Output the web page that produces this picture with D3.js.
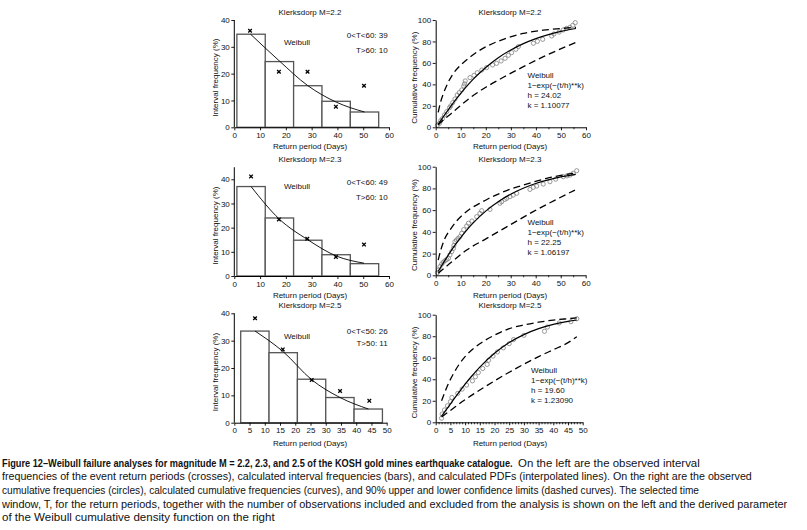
<!DOCTYPE html>
<html><head><meta charset="utf-8">
<script src="https://cdn.jsdelivr.net/npm/d3@7/dist/d3.min.js"></script>
<style>
body{margin:0;background:#fff}
svg text{font-family:"Liberation Sans",Arial,Helvetica,sans-serif;fill:#111}
</style>
</head><body>
<svg id="chart" width="807" height="530"></svg>
<script>
// ---------- DATA ----------
const titles = ["Klerksdorp M=2.2", "Klerksdorp M=2.3", "Klerksdorp M=2.5"];
const xTicks60 = [0, 10, 20, 30, 40, 50, 60];
const xTicks50 = [0, 5, 10, 15, 20, 25, 30, 35, 40, 45, 50];
const yTicksLeft = [0, 10, 20, 30, 40];
const yTicksRight = [0, 20, 40, 60, 80, 100];
const windowText = [["0<T<60: 39", "T>60: 10"], ["0<T<60: 49", "T>60: 10"], ["0<T<50: 26", "T>50: 11"]];
const paramText = [["Weibull", "1\u2212exp(\u2212(t/h)**k)", "h = 24.02", "k = 1.10077"],
                   ["Weibull", "1\u2212exp(\u2212(t/h)**k)", "h = 22.25", "k = 1.06197"],
                   ["Weibull", "1\u2212exp(\u2212(t/h)**k)", "h = 19.60", "k = 1.23090"]];

// left: interval frequencies
const edges22 = [1, 12, 23, 34, 45, 56];
const bars22 = [34.7, 24.5, 15.5, 9.7, 5.7];
const crossT22 = [6.1, 17.3, 28.4, 39.4, 50.3];
const crossF22 = [36.0, 20.7, 20.7, 7.7, 15.5];
const pdfT22 = [6.3, 17.4, 28.4, 39.5, 50.5];
const pdfF22 = [34.7, 24.8, 15.6, 9.4, 5.7];

const edges23 = [1, 12, 23, 34, 45, 56];
const bars23 = [37.0, 24.0, 14.8, 8.8, 5.1];
const crossT23 = [6.5, 17.3, 28.3, 39.4, 50.3];
const crossF23 = [41.2, 23.4, 15.4, 7.9, 13.0];
const pdfT23 = [6.5, 17.5, 28.5, 39.5, 50.3];
const pdfF23 = [37.0, 23.5, 15.0, 8.3, 5.3];

const edges25 = [2.1, 11.4, 20.7, 30.0, 39.3, 48.6];
const bars25 = [33.5, 25.6, 15.9, 9.2, 5.0];
const crossT25 = [6.8, 15.9, 25.4, 34.7, 44.3];
const crossF25 = [38.2, 26.8, 15.6, 11.6, 8.0];
const pdfT25 = [6.8, 16.0, 25.4, 34.7, 44.0];
const pdfF25 = [33.5, 26.0, 15.7, 9.2, 5.0];

// right: cumulative frequencies
const obsT22 = [0.7,1.5,2.0,2.7,3.5,4.4,5.5,6.0,6.8,7.7,8.6,9.4,10.4,11.2,11.5,11.8,13.7,15.3,16.6,18.4,20.3,22.7,24.3,26.1,27.7,29.0,30.3,32.0,33.0,39.0,40.6,42.7,46.3,47.2,49.3,50.9,52.3,53.6,54.7,55.7];
const obsF22 = [1.9,3.7,6.2,8.1,11.5,14.6,18.3,19.9,23.0,26.4,30.1,32.3,34.8,38.5,40.5,43.2,46.3,48.4,50.9,53.4,55.6,58.1,59.6,61.8,64.3,67.1,69.6,72.7,75.2,78.3,80.1,82.0,85.1,87.0,88.8,90.7,92.2,93.2,95.0,97.5];
const fitT22 = [1,2,4,6,8,10,12,15,20,25,30,35,40,45,50,56];
const fitF22 = [3.0,6.3,13.0,19.5,25.8,31.7,37.2,44.9,55.8,64.8,72.1,78.0,82.7,86.4,89.4,92.1];
const upT22 = [1,2,3,5,7,10,14,20,27,35,43,51,56];
const upF22 = [14,24,31,42,50,58,66,75,82,87.5,90.5,92.3,93.2];
const loT22 = [1,3,6,10,14,20,27,35,43,51,56];
const loF22 = [2.2,6.8,12.5,20.5,28,37.3,46.6,56.5,65.8,74.2,79.2];

const obsT23 = [0.7,1.1,1.7,2.4,3.0,3.7,4.4,5.1,5.7,6.4,7.1,7.3,7.7,8.3,9.0,9.7,10.4,11.2,12.4,13.1,14.5,16.4,17.7,18.4,21.7,25.7,26.4,27.7,28.4,29.7,31.0,32.4,37.7,39.0,40.4,43.0,45.7,48.0,51.0,52.5,53.7,55.0,56.4];
const obsF23 = [2.5,4.9,8.0,10.4,12.0,13.5,14.5,15.6,18.7,21.8,24.8,27.6,31.0,32.5,34.0,35.6,38.7,42.0,45.4,47.9,50.0,54.0,57.0,59.5,60.7,66.3,67.8,69.9,70.9,72.4,73.9,75.5,79.1,81.0,82.2,84.0,86.2,88.5,90.8,91.5,92.3,93.9,96.3];
const fitT23 = [1,2,4,6,8,10,12,15,20,25,30,35,40,45,50,56];
const fitF23 = [3.6,7.4,14.9,22.0,28.7,34.8,40.5,48.2,59.1,67.7,74.7,80.2,84.5,87.9,90.6,93.0];
const upT23 = [1,2,3.5,5.7,8,11,14,17.7,21,25.7,30,35,40,44.4,50,55];
const upF23 = [14,23,33,41.7,49,56,61.5,66.3,70.5,75.5,79.5,83,86.5,89.3,92,93.9];
const loT23 = [1,5.7,12.4,20.4,29.7,39,48.4,55.7];
const loF23 = [1.8,11,23.3,34,46.3,58.6,70,78.5];

const obsT25 = [2.0,2.2,3.0,4.0,5.0,5.5,7.5,9.0,10.5,12.5,13.5,14.5,16.0,17.5,18.0,19.5,21.0,23.0,25.0,26.5,30.0,37.0,38.0,42.0,46.0,48.0];
const obsF25 = [3.8,7.7,11.5,15.4,19.2,23.1,26.9,30.8,34.6,38.5,42.3,46.2,50.0,53.8,57.7,61.5,65.4,69.2,73.1,76.9,80.8,84.6,88.5,92.3,93.5,96.2];
const fitT25 = [2,3,4,6,8,10,12,15,20,25,30,35,40,45,48];
const fitF25 = [5.8,9.4,13.2,20.8,28.2,35.4,42.1,51.3,64.1,74.1,81.5,87.0,91.0,93.8,95.1];
const upT25 = [2,4,6,8,10,15,20,25,30,35,40,45,48];
const upF25 = [20,34,45,54,61,73,81,87,90.5,93,95,96.3,97];
const loT25 = [2,5,10,15,20,25,30,35,40,45,48];
const loF25 = [5,11,21,30,38.5,46.5,54,61,67.5,74,79.5];

const captionBold = "Figure 12\u2013Weibull failure analyses for magnitude M = 2.2, 2.3, and 2.5 of the KOSH gold mines earthquake catalogue.";
const captionFirstRest = "On the left are the observed interval";
const captionLines = [
  "frequencies of the event return periods (crosses), calculated interval frequencies (bars), and calculated PDFs (interpolated lines). On the right are the observed",
  "cumulative frequencies (circles), calculated cumulative frequencies (curves), and 90% upper and lower confidence limits (dashed curves). The selected time",
  "window, T, for the return periods, together with the number of observations included and excluded from the analysis is shown on the left and the derived parameter",
  "of the Weibull cumulative density function on the right"
];

// ---------- LAYOUT ----------
const zip = (a, b) => a.map((v, i) => [v, b[i]]);
const rows = [
  {title: titles[0], xTicks: xTicks60, xMax: 60,
   L: {x0: 234.3, x1: 389, yB: 127.3, yT: 20, yMax: 40}, R: {x0: 435.7, x1: 586, yB: 127.3, yT: 20},
   edges: edges22, bars: bars22, cross: zip(crossT22, crossF22), pdf: zip(pdfT22, pdfF22),
   obs: zip(obsT22, obsF22), fit: zip(fitT22, fitF22), up: zip(upT22, upF22), lo: zip(loT22, loF22),
   titleY: 15, xlabY: 149, win: windowText[0], winY: [38, 53], weibY: 45, par: paramText[0], parX: 527.5, parY: 78, minor: 5},
  {title: titles[1], xTicks: xTicks60, xMax: 60,
   L: {x0: 234.3, x1: 389, yB: 276, yT: 179.3, yMax: 40, domMax: 45}, R: {x0: 435.7, x1: 585.7, yB: 275.3, yT: 166.7},
   edges: edges23, bars: bars23, cross: zip(crossT23, crossF23), pdf: zip(pdfT23, pdfF23),
   obs: zip(obsT23, obsF23), fit: zip(fitT23, fitF23), up: zip(upT23, upF23), lo: zip(loT23, loF23),
   titleY: 162, xlabY: 298, win: windowText[1], winY: [185, 200], weibY: 189, par: paramText[1], parX: 527.5, parY: 225, minor: 5},
  {title: titles[2], xTicks: xTicks50, xMax: 50,
   L: {x0: 234.3, x1: 386.7, yB: 422.7, yT: 313.3, yMax: 40}, R: {x0: 435.7, x1: 582.7, yB: 422.3, yT: 314.7},
   edges: edges25, bars: bars25, cross: zip(crossT25, crossF25), pdf: zip(pdfT25, pdfF25),
   obs: zip(obsT25, obsF25), fit: zip(fitT25, fitF25), up: zip(upT25, upF25), lo: zip(loT25, loF25),
   titleY: 308, xlabY: 446, win: windowText[2], winY: [334, 346], weibY: 339, par: paramText[2], parX: 531, parY: 373, minor: 1}
];

const svg = d3.select("#chart");
const FS = 8;

function styleAxis(g) {
  g.selectAll("path.domain").attr("stroke", "#000").attr("stroke-width", 1);
  g.selectAll(".tick line").attr("stroke", "#000").attr("stroke-width", 0.9);
  g.selectAll(".tick text").attr("font-size", FS).attr("fill", "#111")
    .style("font-family", '"Liberation Sans",Arial,sans-serif');
}

rows.forEach(r => {
  // ===== LEFT PANEL =====
  const L = r.L;
  const xl = d3.scaleLinear().domain([0, r.xMax]).range([L.x0, L.x1]);
  const yl = d3.scaleLinear().domain([0, L.yMax]).range([L.yB, L.yT]);
  const gl = svg.append("g");
  const topY = L.domMax ? yl(L.domMax) : yl(L.yMax);

  gl.selectAll("rect.bar").data(r.bars).join("rect")
    .attr("x", (d, i) => xl(r.edges[i]))
    .attr("width", (d, i) => xl(r.edges[i + 1]) - xl(r.edges[i]))
    .attr("y", d => yl(d))
    .attr("height", d => yl(0) - yl(d))
    .attr("fill", "#fff").attr("stroke", "#555").attr("stroke-width", 1.3);

  gl.append("path").datum(r.pdf)
    .attr("d", d3.line().x(d => xl(d[0])).y(d => yl(d[1])).curve(d3.curveMonotoneX))
    .attr("fill", "none").attr("stroke", "#000").attr("stroke-width", 0.9);

  gl.selectAll("path.cross").data(r.cross).join("path")
    .attr("transform", d => `translate(${xl(d[0])},${yl(d[1])})`)
    .attr("d", "M-1.8,-1.8L1.8,1.8M-1.8,1.8L1.8,-1.8")
    .attr("stroke", "#000").attr("stroke-width", 1.3);

  const axB = gl.append("g").attr("transform", `translate(0,${L.yB})`)
    .call(d3.axisBottom(xl).tickValues(r.xTicks).tickSize(3).tickSizeOuter(0).tickPadding(2));
  styleAxis(axB);
  const axL = gl.append("g").attr("transform", `translate(${L.x0},0)`)
    .call(d3.axisLeft(yl).tickValues(yTicksLeft).tickSize(3).tickSizeOuter(0).tickPadding(1.5));
  axL.select("path.domain").attr("d", `M0,${L.yB}V${topY}`);
  styleAxis(axL);

  gl.append("text").attr("x", 310).attr("y", r.titleY).attr("text-anchor", "middle").attr("font-size", FS).text(r.title);
  gl.append("text").attr("x", 310).attr("y", r.xlabY).attr("text-anchor", "middle").attr("font-size", FS).text("Return period (Days)");
  gl.append("text").attr("transform", `translate(215,${(L.yB + topY) / 2 + 4}) rotate(-90)`)
    .attr("text-anchor", "middle").attr("dy", "0.35em").attr("font-size", FS).text("Interval frequency (%)");
  gl.append("text").attr("x", 297).attr("y", r.weibY).attr("text-anchor", "middle").attr("font-size", FS).text("Weibull");
  r.win.forEach((t, i) => gl.append("text").attr("x", 387.7).attr("y", r.winY[i]).attr("text-anchor", "end").attr("font-size", FS).text(t));

  // ===== RIGHT PANEL =====
  const R = r.R;
  const xr = d3.scaleLinear().domain([0, r.xMax]).range([R.x0, R.x1]);
  const yr = d3.scaleLinear().domain([0, 100]).range([R.yB, R.yT]);
  const gr = svg.append("g");

  gr.selectAll("circle.obs").data(r.obs).join("circle")
    .attr("cx", d => xr(d[0])).attr("cy", d => yr(d[1])).attr("r", 2.1)
    .attr("fill", "none").attr("stroke", "#808080").attr("stroke-width", 0.8);

  const ln = d3.line().x(d => xr(d[0])).y(d => yr(d[1])).curve(d3.curveMonotoneX);
  gr.append("path").datum(r.fit).attr("d", ln).attr("fill", "none").attr("stroke", "#000").attr("stroke-width", 1.2);
  [r.up, r.lo].forEach(dd => gr.append("path").datum(dd).attr("d", ln)
    .attr("fill", "none").attr("stroke", "#000").attr("stroke-width", 1.3).attr("stroke-dasharray", "7,4"));

  const minorVals = d3.range(0, r.xMax + 0.001, r.minor).filter(v => !r.xTicks.includes(v));
  const axMin = gr.append("g").attr("transform", `translate(0,${R.yB})`)
    .call(d3.axisBottom(xr).tickValues(minorVals).tickSize(2).tickSizeOuter(0).tickFormat(""));
  axMin.select("path.domain").remove();
  axMin.selectAll(".tick line").attr("stroke", "#000").attr("stroke-width", 0.8);
  const axRB = gr.append("g").attr("transform", `translate(0,${R.yB})`)
    .call(d3.axisBottom(xr).tickValues(r.xTicks).tickSize(3).tickSizeOuter(0).tickPadding(2));
  styleAxis(axRB);
  const axRL = gr.append("g").attr("transform", `translate(${R.x0},0)`)
    .call(d3.axisLeft(yr).tickValues(yTicksRight).tickSize(3).tickSizeOuter(0).tickPadding(1.5));
  styleAxis(axRL);

  gr.append("text").attr("x", 510).attr("y", r.titleY).attr("text-anchor", "middle").attr("font-size", FS).text(r.title);
  gr.append("text").attr("x", 510).attr("y", r.xlabY).attr("text-anchor", "middle").attr("font-size", FS).text("Return period (Days)");
  gr.append("text").attr("transform", `translate(414,${(R.yB + R.yT) / 2 + 4}) rotate(-90)`)
    .attr("text-anchor", "middle").attr("dy", "0.35em").attr("font-size", FS).text("Cumulative frequency (%)");
  r.par.forEach((t, i) => gr.append("text").attr("x", r.parX).attr("y", r.parY + i * 10).attr("font-size", FS).text(t));
});

// ---------- CAPTION (horizontally condensed to fit the reference widths) ----------
function capText(str, x, y, width, bold) {
  const g = svg.append("g");
  const t = g.append("text").attr("x", 0).attr("y", 0).attr("font-size", 10.5).text(str);
  if (bold) t.attr("font-weight", "bold");
  const w = t.node().getComputedTextLength();
  g.attr("transform", `translate(${x},${y}) scale(${width / w},1)`);
}
capText(captionBold, 2, 466.5, 511, true);
capText(captionFirstRest, 518, 466.5, 182, false);
const capW = [751, 698, 786, 273];
captionLines.forEach((t, i) => capText(t, 2, 480.3 + i * 13.7, capW[i], false));
</script>
</body></html>
